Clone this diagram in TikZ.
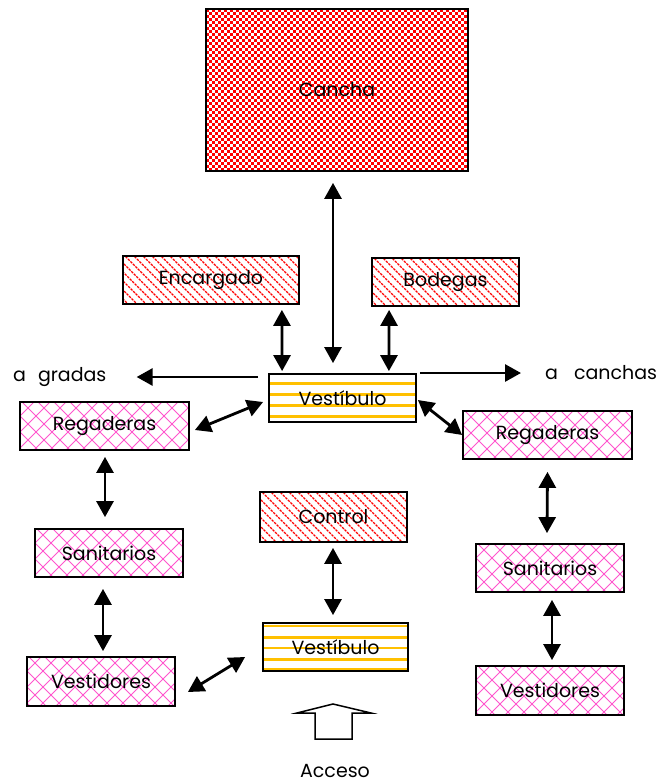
\documentclass[tikz,border=0pt]{standalone}
\usepackage{fontspec}
\setmainfont{Poppins}
\usetikzlibrary{arrows.meta,calc}

\definecolor{latpink}{RGB}{255,85,205}
\definecolor{stripeyellow}{RGB}{255,192,0}

\tikzset{
  box/.style={draw=black, line width=1.8pt, inner sep=0pt, fill=white,
    font=\fontsize{19}{19}\selectfont},
  % red/white checkerboard, 3pt cells, built from dashed rows
  checkbox/.style={box, path picture={
      \coordinate (nw) at (path picture bounding box.north west);
      \foreach \r in {0,...,55} {
        \pgfmathsetmacro\ph{mod(\r,2)*3}
        \draw[red, line width=3pt, dash pattern=on 3pt off 3pt, dash phase=\ph pt]
          ($(nw)+(0,1.5+3*\r)$) -- ++(270,0);}}},
  % red falling diagonal stripes
  slantbox/.style={box, path picture={
      \coordinate (nw) at (path picture bounding box.north west);
      \foreach \k in {-7,...,21}
        \draw[red, line width=1.2pt, dash pattern=on 2.5pt off 1pt]
          ($(nw)+(9*\k,-2)$) -- ++(64,64);}},
  % pink diamond lattice
  latbox/.style={box, path picture={
      \coordinate (nw) at (path picture bounding box.north west);
      \foreach \k in {-5,...,13} {
        \draw[latpink, line width=1pt] ($(nw)+(16*\k,-2)$) -- ++(64,64);
        \draw[latpink, line width=1pt] ($(nw)+(16*\k,-2)$) -- ++(-64,64);}}},
  % yellow horizontal stripes, offsets from the top edge
  stripebox/.style={box, path picture={
      \foreach \o in {#1}
        \draw[stripeyellow, line width=2.2pt]
          ([yshift=-\o pt]path picture bounding box.north west) --
          ([yshift=-\o pt]path picture bounding box.north east);}},
  label text/.style={inner sep=0pt, font=\fontsize{19}{19}\selectfont},
  dbl/.style={line width=2.8pt, {Triangle[width=17pt,length=16pt]}-{Triangle[width=17pt,length=16pt]}},
  sgl/.style={line width=2.8pt, -{Triangle[width=17pt,length=16pt]}}
}

\begin{document}
\begin{tikzpicture}[x=1pt, y=-1pt]
\path[use as bounding box] (0,0) rectangle (668,784);

% rooms
\node[checkbox, minimum width=262pt, minimum height=162pt] (cancha) at (337,90) {Cancha};
\node[slantbox, minimum width=176pt, minimum height=48pt] (enc) at (211,280) {Encargado};
\node[slantbox, minimum width=147pt, minimum height=48pt] (bod) at (445.5,282) {Bodegas};
\node[stripebox={9.4,20.4,31.4,42.4}, minimum width=147pt, minimum height=48pt] (vt) at (342.5,398) {Vestíbulo};
\node[latbox, minimum width=169pt, minimum height=48pt] (rl) at (104.5,426) {Regaderas};
\node[latbox, minimum width=169pt, minimum height=48pt] (rr) at (547.5,435) {Regaderas};
\node[latbox, minimum width=148pt, minimum height=48pt] (sl) at (109,553) {Sanitarios};
\node[latbox, minimum width=148pt, minimum height=49pt] (vdl) at (101,681.5) {Vestidores};
\node[slantbox, minimum width=147pt, minimum height=50pt] (ctl) at (333.5,517) {Control};
\node[stripebox={3.1,14.4,25.1,36.4,46.4}, minimum width=145pt, minimum height=48pt] (vb) at (335.5,647) {Vestíbulo};
\node[latbox, minimum width=148pt, minimum height=48pt] (sr) at (550,568) {Sanitarios};
\node[latbox, minimum width=148pt, minimum height=49pt] (vdr) at (550,690.5) {Vestidores};

% free labels
\node[label text, anchor=west] (gr) at (13,377) {a\hspace{12pt}gradas};
\node[label text, anchor=west] (ca) at (545,373) {a\hspace{16pt}canchas};
\node[label text] (acc) at (335,771) {Acceso};

% connections around the upper hall
\draw[dbl] ($(cancha.south)+(-4,11)$) -- ($(vt.north)+(-9.5,-10)$);
\draw[dbl] ($(enc.south east)+(-18,5)$) -- ($(vt.north west)+(14,-2)$);
\draw[dbl] ($(bod.south west)+(18,3)$) -- ($(vt.north east)+(-28,-2)$);
\draw[sgl] ($(vt.west |- gr.east)+(-10,0)$) -- ($(gr.east)+(30,0)$);
\draw[sgl] ($(vt.east |- ca.west)+(3,0)$) -- ($(ca.west)+(-24,0)$);
\draw[dbl] ($(rl.east)+(5,4)$) -- ($(vt.west)+(-5,4)$);
\draw[dbl] ($(vt.east)+(1,2)$) -- (rr.west);

% left wing
\draw[dbl] ($(rl.south)+(0.5,6)$) -- ($(sl.north)+(-4,-11)$);
\draw[dbl] ($(sl.south)+(-6,11)$) -- ($(vdl.north)+(2,-5)$);

% right wing
\draw[dbl] ($(rr.south)+(0,12)$) -- ($(sr.north)+(-3,-10)$);
\draw[dbl] ($(sr.south)+(2,7)$) -- ($(vdr.north)+(2,-5)$);

% entrance
\draw[dbl] ($(ctl.south)+(-0.5,5)$) -- ($(vb.north)+(-2.5,-7)$);
\draw[dbl] ($(vb.west)+(-17,10)$) -- ($(vdl.east)+(12,10.5)$);
\draw[line width=1.5pt, line join=miter]
  (315,739) -- (315,713) -- (297,713) -- (333,704) -- (371,713)
  -- (352,713) -- (352,739) -- cycle;
\end{tikzpicture}
\end{document}
